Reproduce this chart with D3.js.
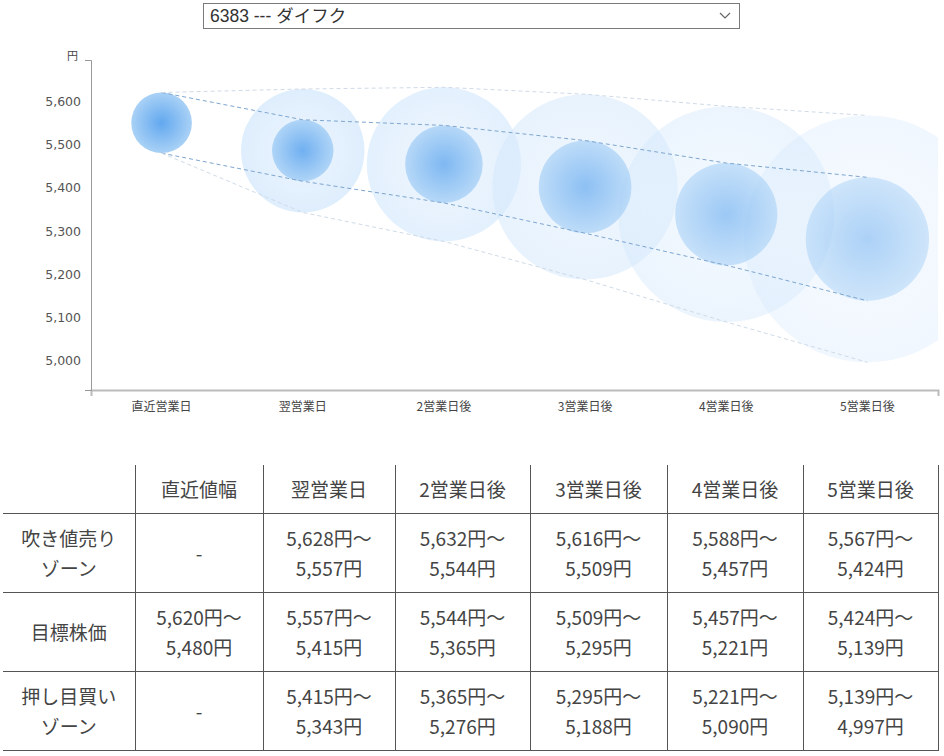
<!DOCTYPE html>
<html>
  <head>
    <meta charset="utf-8" />
    <title>株価予測</title>
    <script src="https://d3js.org/d3.v7.min.js"></script>
    <style>
        body {
            margin: 0;
            background: #fff;
            font-family: "Noto Sans CJK JP", sans-serif;
        }
        #picker {
            position: absolute;
            left: 203px;
            top: 3px;
            width: 535px;
            height: 24px;
            border: 1px solid #7a7a7a;
            box-sizing: content-box;
            font-family: "Liberation Sans", "Noto Sans CJK JP", sans-serif;
            font-size: 17.5px;
            color: #333;
            line-height: 25px;
        }
        #picker span { margin-left: 6px; }
        #picker svg { position: absolute; right: 8px; top: 8px; }
        #chart { position: absolute; left: 0; top: 0; }
        #table {
            position: absolute;
            left: 3px;
            top: 465px;
            border-collapse: collapse;
            table-layout: fixed;
            color: #444;
            font-size: 19px;
            line-height: 30px;
        }
        #table td, #table th {
            font-weight: normal;
            text-align: center;
            padding: 9px 0;
            border-bottom: 1px solid #555;
            border-left: 1px solid #555;
        }
        #table tr > :first-child { border-left: none; }
        #table tr > :last-child { border-right: 1px solid #555; }
    </style>
  </head>
  <body>
    <div id="picker"><span>6383 --- ダイフク</span>
      <svg width="12" height="8"><path d="M1,1 L6,6 L11,1" fill="none" stroke="#666" stroke-width="1.2"/></svg>
    </div>
    <svg id="chart">
        <defs></defs>
        <g id="outer"></g>
        <g id="inner"></g>
        <g id="lines"></g>
        <g id="x"></g>
        <g id="y"></g>
    </svg>
    <table id="table"></table>

    <script>
        var categories = ["直近営業日", "翌営業日", "2営業日後", "3営業日後", "4営業日後", "5営業日後"];
        var headers = ["", "直近値幅", "翌営業日", "2営業日後", "3営業日後", "4営業日後", "5営業日後"];
        var rowLabels = ["吹き値売り<br>ゾーン", "目標株価", "押し目買い<br>ゾーン"];
        var sellHigh = [null, 5628, 5632, 5616, 5588, 5567];
        var sellLow = [null, 5557, 5544, 5509, 5457, 5424];
        var targetHigh = [5620, 5557, 5544, 5509, 5457, 5424];
        var targetLow = [5480, 5415, 5365, 5295, 5221, 5139];
        var buyHigh = [null, 5415, 5365, 5295, 5221, 5139];
        var buyLow = [null, 5343, 5276, 5188, 5090, 4997];
        var yTicks = [5000, 5100, 5200, 5300, 5400, 5500, 5600];
        var yDomain = [4933, 5695];

        var width = 944;
        var height = 430;
        var margin = {top: 60, right: 6, bottom: 40, left: 91};

        var svg = d3.select("#chart")
            .attr("width", width)
            .attr("height", height);

        var x = d3.scaleBand()
            .domain(categories)
            .range([margin.left, width - margin.right]);

        var y = d3.scaleLinear()
            .domain(yDomain)
            .range([height - margin.bottom, margin.top]);

        var cx = function(i) { return x(categories[i]) + x.bandwidth() / 2; };
        var pxPerUnit = (y(yDomain[0]) - y(yDomain[1])) / (yDomain[1] - yDomain[0]);

        var defs = svg.select("defs");
        defs.append("clipPath").attr("id", "plot")
            .append("rect")
            .attr("x", margin.left)
            .attr("y", 0)
            .attr("width", width - margin.right - margin.left)
            .attr("height", height - margin.bottom);

        var gIn = defs.append("radialGradient").attr("id", "gradInner");
        gIn.append("stop").attr("offset", "0%").attr("stop-color", "#62a8ef");
        gIn.append("stop").attr("offset", "100%").attr("stop-color", "#a9d1f6");

        var gOut = defs.append("radialGradient").attr("id", "gradOuter");
        gOut.append("stop").attr("offset", "0%").attr("stop-color", "#e6f2fe");
        gOut.append("stop").attr("offset", "100%").attr("stop-color", "#d4e8fc");

        var points = categories.map(function(c, i) {
            return {
                i: i,
                tHi: targetHigh[i], tLo: targetLow[i],
                sHi: sellHigh[i], bLo: buyLow[i]
            };
        });

        // outer zone circles (sell high .. buy low)
        svg.select("#outer")
            .attr("clip-path", "url(#plot)")
            .selectAll("circle")
            .data(points.filter(function(d) { return d.sHi != null; }))
            .enter().append("circle")
            .attr("cx", function(d) { return cx(d.i); })
            .attr("cy", function(d) { return y((d.sHi + d.bLo) / 2); })
            .attr("r", function(d) { return (d.sHi - d.bLo) / 2 * pxPerUnit; })
            .attr("fill", "url(#gradOuter)")
            .attr("opacity", function(d) { return 0.85 - d.i * 0.1; });

        // target price circles
        svg.select("#inner").selectAll("circle")
            .data(points)
            .enter().append("circle")
            .attr("cx", function(d) { return cx(d.i); })
            .attr("cy", function(d) { return y((d.tHi + d.tLo) / 2); })
            .attr("r", function(d) { return (d.tHi - d.tLo) / 2 * pxPerUnit; })
            .attr("fill", "url(#gradInner)")
            .attr("opacity", function(d) { return 1 - d.i * 0.1; });

        // dashed guide lines
        var line = d3.line()
            .x(function(d) { return cx(d.i); })
            .y(function(d) { return y(d.v); });

        var guides = [
            {vals: targetHigh, color: "#7ea6cf"},
            {vals: targetLow, color: "#7ea6cf"},
            {vals: sellHigh.map(function(v, i) { return v == null ? targetHigh[i] : v; }), color: "#cfdbe8"},
            {vals: buyLow.map(function(v, i) { return v == null ? targetLow[i] : v; }), color: "#cfdbe8"}
        ];

        svg.select("#lines").selectAll("path")
            .data(guides)
            .enter().append("path")
            .attr("d", function(g) {
                return line(g.vals.map(function(v, i) { return {i: i, v: v}; }));
            })
            .attr("fill", "none")
            .attr("stroke", function(g) { return g.color; })
            .attr("stroke-width", 1)
            .attr("stroke-dasharray", "4,3");

        // axes
        var xAxis = d3.axisBottom(x).tickSizeInner(0).tickSizeOuter(6).tickPadding(12);
        svg.select("#x")
            .attr("transform", "translate(0, " + (height - margin.bottom) + ")")
            .call(xAxis);
        svg.select("#x .domain").attr("stroke", "#bbb").attr("stroke-width", 2);
        svg.selectAll("#x text")
            .attr("font-family", "'Noto Sans CJK JP', sans-serif")
            .attr("font-size", 12)
            .attr("fill", "#444");

        var yAxis = d3.axisLeft(y)
            .tickValues(yTicks)
            .tickFormat(d3.format(","))
            .tickSizeInner(0).tickSizeOuter(6).tickPadding(10);
        svg.select("#y")
            .attr("transform", "translate(" + margin.left + ", 0)")
            .call(yAxis);
        svg.select("#y .domain").attr("stroke", "#999");
        svg.selectAll("#y text")
            .attr("font-family", "'DejaVu Sans', sans-serif")
            .attr("font-size", 12.5)
            .attr("fill", "#555");

        svg.append("text")
            .attr("x", margin.left - 13)
            .attr("y", margin.top)
            .attr("text-anchor", "end")
            .attr("font-family", "'Noto Sans CJK JP', sans-serif")
            .attr("font-size", 11)
            .attr("fill", "#444")
            .text("円");

        // table
        var fmt = d3.format(",");
        var range = function(hi, lo) {
            return hi == null ? "-" : fmt(hi) + "円～<br>" + fmt(lo) + "円";
        };
        var rows = [
            [rowLabels[0]].concat(sellHigh.map(function(v, i) { return range(v, sellLow[i]); })),
            [rowLabels[1]].concat(targetHigh.map(function(v, i) { return range(v, targetLow[i]); })),
            [rowLabels[2]].concat(buyHigh.map(function(v, i) { return range(v, buyLow[i]); }))
        ];
        var colWidths = [132, 128, 132, 135, 137, 136, 135];

        var table = d3.select("#table").style("width", d3.sum(colWidths) + "px");
        table.append("colgroup").selectAll("col")
            .data(colWidths)
            .enter().append("col")
            .style("width", function(w) { return w + "px"; });
        table.append("tr").selectAll("th")
            .data(headers)
            .enter().append("th")
            .text(function(d) { return d; });
        table.selectAll("tr.body")
            .data(rows)
            .enter().append("tr")
            .attr("class", "body")
            .selectAll("td")
            .data(function(r) { return r; })
            .enter().append("td")
            .html(function(d) { return d; });
    </script>
  </body>
</html>
